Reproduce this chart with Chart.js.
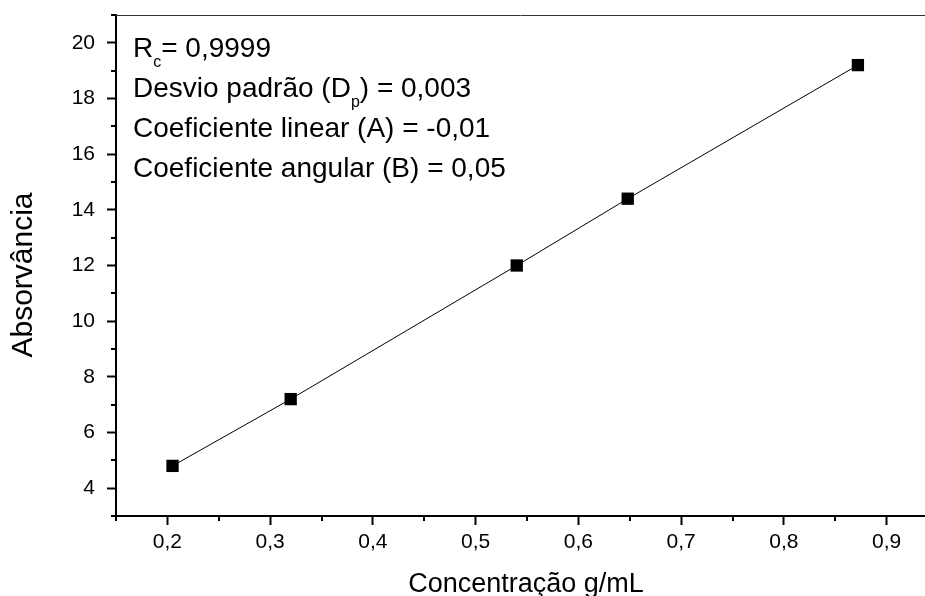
<!DOCTYPE html>
<html>
<head>
<meta charset="utf-8">
<script src="https://cdn.jsdelivr.net/npm/chart.js@4.4.1/dist/chart.umd.min.js"></script>
<style>
  html, body { margin: 0; padding: 0; background: #fff; overflow: hidden; }
</style>
</head>
<body>
<canvas id="chart" width="925" height="596"></canvas>
<script>
// Calibration data
const concentracao = [0.205, 0.32, 0.54, 0.648, 0.872];
const absorvancia = [4.8, 7.2, 12.0, 14.4, 19.2];

// Axis ticks
const xTicks = [0.2, 0.3, 0.4, 0.5, 0.6, 0.7, 0.8, 0.9];
const yTicks = [4, 6, 8, 10, 12, 14, 16, 18, 20];
const xMinorTicks = [0.15, 0.25, 0.35, 0.45, 0.55, 0.65, 0.75, 0.85];
const yMinorTicks = [3, 5, 7, 9, 11, 13, 15, 17, 19, 21];

const xTitle = 'Concentração g/mL';
const yTitle = 'Absorvância';

// Annotation lines (segments, sub = subscript)
const statsLines = [
    [{ t: 'R' }, { t: 'c', sub: true }, { t: '= 0,9999' }],
    [{ t: 'Desvio padrão (D' }, { t: 'p', sub: true }, { t: ') = 0,003' }],
    [{ t: 'Coeficiente linear (A) = -0,01' }],
    [{ t: 'Coeficiente angular (B) = 0,05' }]
];

const FONT = 'Arial, "Liberation Sans", sans-serif';

// draws minor ticks, top frame line, axis titles and the stats text
const extrasPlugin = {
    id: 'extras',
    afterDraw(chart) {
        const ctx = chart.ctx;
        const x = chart.scales.x;
        const y = chart.scales.y;
        const area = chart.chartArea;
        ctx.save();

        // top frame
        ctx.strokeStyle = '#333';
        ctx.lineWidth = 1;
        ctx.beginPath();
        ctx.moveTo(area.left, area.top + 0.5);
        ctx.lineTo(area.right, area.top + 0.5);
        ctx.stroke();

        // minor ticks
        ctx.strokeStyle = '#000';
        ctx.lineWidth = 2;
        xMinorTicks.forEach(v => {
            const px = Math.round(x.getPixelForValue(v));
            ctx.beginPath();
            ctx.moveTo(px, area.bottom);
            ctx.lineTo(px, area.bottom + 5);
            ctx.stroke();
        });
        yMinorTicks.forEach(v => {
            const py = Math.round(y.getPixelForValue(v));
            ctx.beginPath();
            ctx.moveTo(area.left, py);
            ctx.lineTo(area.left - 5, py);
            ctx.stroke();
        });

        // axis titles
        ctx.fillStyle = '#000';
        ctx.textAlign = 'center';
        ctx.textBaseline = 'alphabetic';
        ctx.font = '27px ' + FONT;
        ctx.fillText(xTitle, 526, 592);
        ctx.save();
        ctx.translate(32, 275);
        ctx.rotate(-Math.PI / 2);
        ctx.font = '30px ' + FONT;
        ctx.fillText(yTitle, 0, 0);
        ctx.restore();

        // stats text
        ctx.textAlign = 'left';
        statsLines.forEach((line, i) => {
            let cx = 133;
            const base = 57 + i * 40;
            line.forEach(seg => {
                if (seg.sub) {
                    ctx.font = '16px ' + FONT;
                    ctx.fillText(seg.t, cx, base + 10);
                } else {
                    ctx.font = '28px ' + FONT;
                    ctx.fillText(seg.t, cx, base);
                }
                cx += ctx.measureText(seg.t).width;
            });
        });
        ctx.restore();
    }
};

new Chart(document.getElementById('chart'), {
    type: 'scatter',
    data: {
        datasets: [{
            data: concentracao.map((c, i) => ({ x: c, y: absorvancia[i] })),
            showLine: true,
            borderColor: '#000',
            borderWidth: 1,
            pointStyle: 'rect',
            pointRadius: 8.7,
            pointHoverRadius: 8.7,
            pointBackgroundColor: '#000',
            pointBorderColor: '#000',
            pointBorderWidth: 0
        }]
    },
    options: {
        responsive: false,
        animation: false,
        layout: { autoPadding: false, padding: { top: 15, right: 0, left: 0, bottom: 0 } },
        plugins: {
            legend: { display: false },
            tooltip: { enabled: false }
        },
        scales: {
            x: {
                type: 'linear',
                min: 0.15,
                max: 0.9373,
                afterBuildTicks: scale => { scale.ticks = xTicks.map(v => ({ value: v })); },
                afterFit: scale => {
                    scale.height = 80;
                    scale.paddingLeft = 0;
                    scale.paddingRight = 0;
                },
                ticks: {
                    color: '#000',
                    font: { family: FONT, size: 21 },
                    padding: 5,
                    maxRotation: 0,
                    autoSkip: false,
                    callback: v => v.toFixed(1).replace('.', ',')
                },
                grid: {
                    drawOnChartArea: false,
                    drawTicks: true,
                    tickLength: 9,
                    tickColor: '#000',
                    tickWidth: 2
                },
                border: { display: true, color: '#000', width: 2 }
            },
            y: {
                type: 'linear',
                min: 3,
                max: 21,
                afterBuildTicks: scale => { scale.ticks = yTicks.map(v => ({ value: v })); },
                afterFit: scale => {
                    scale.width = 116;
                    scale.paddingTop = 0;
                    scale.paddingBottom = 0;
                },
                ticks: {
                    color: '#000',
                    font: { family: FONT, size: 21 },
                    padding: 12,
                    autoSkip: false
                },
                grid: {
                    drawOnChartArea: false,
                    drawTicks: true,
                    tickLength: 9,
                    tickColor: '#000',
                    tickWidth: 2
                },
                border: { display: true, color: '#000', width: 2 }
            }
        }
    },
    plugins: [extrasPlugin]
});
</script>
</body>
</html>
